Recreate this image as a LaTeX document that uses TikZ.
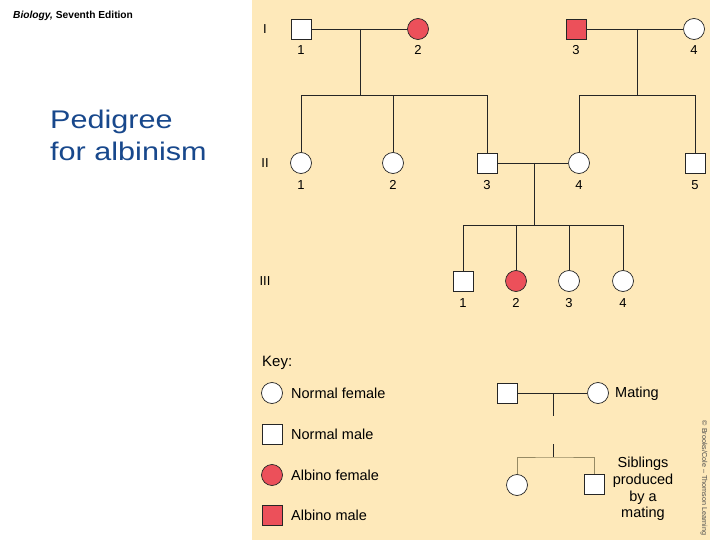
\documentclass[tikz,border=0pt]{standalone}
\usepackage{fontspec}
\usepackage{graphicx}
\setmainfont{Liberation Sans}
\definecolor{beige}{RGB}{254,233,186}
\definecolor{albred}{RGB}{236,80,90}
\definecolor{titleblue}{RGB}{24,72,140}
\definecolor{sibtan}{RGB}{150,138,100}
\tikzset{
  sym/.style={draw=black!85, line width=0.7pt, fill=white, inner sep=0pt},
  fem/.style={sym, circle, minimum size=21pt},
  mal/.style={sym, rectangle, minimum size=20pt},
  albf/.style={fem, fill=albred},
  albm/.style={mal, fill=albred},
  num/.style={font=\fontsize{13}{15}\selectfont, inner sep=0pt, text height=9.3pt, text depth=0pt},
  gen/.style={font=\fontsize{13}{15}\selectfont, inner sep=0pt, text height=9.3pt, text depth=0pt},
  keytext/.style={font=\fontsize{14.5}{17}\selectfont, inner sep=0pt, anchor=west},
  pline/.style={line width=0.7pt, draw=black!85},
  tanline/.style={line width=0.9pt, draw=sibtan}
}
\begin{document}
\begin{tikzpicture}[x=1pt,y=-1pt]
\useasboundingbox (0,0) rectangle (720,540);
\fill[white] (0,0) rectangle (720,540);
\fill[beige] (252,0) rectangle (710,540);

% header and title
\node[anchor=west, inner sep=0pt, font=\fontsize{10.2}{12}\selectfont] (hdr) at (13,16) {\textbf{\textit{Biology,}} \textbf{Seventh Edition}};
\node[anchor=base west, inner sep=0pt, text=titleblue, font=\fontsize{25.5}{30}\selectfont] (t1) at (50,129) {\scalebox{1.2}[1]{Pedigree}};
\node[anchor=base west, inner sep=0pt, text=titleblue, font=\fontsize{25.5}{30}\selectfont] (t2) at (50,161) {\scalebox{1.2}[1]{for albinism}};

% generation labels
\node[gen] (gI) at (265,29) {I};
\node[gen] (gII) at (265,163) {II};
\node[gen] (gIII) at (265,281) {III};

% generation I
\node[mal] (i1) at (301,29) {};
\node[albf] (i2) at (418,29) {};
\node[albm] (i3) at (576,29) {};
\node[fem] (i4) at (694,29) {};
\path (i1) ++(0,21) node[num] (li1) {1};
\path (i2) ++(0,21) node[num] (li2) {2};
\path (i3) ++(0,21) node[num] (li3) {3};
\path (i4) ++(0,21) node[num] (li4) {4};

% generation II
\node[fem] (ii1) at (301,163) {};
\node[fem] (ii2) at (393,163) {};
\node[mal] (ii3) at (487,163) {};
\node[fem] (ii4) at (579,163) {};
\node[mal] (ii5) at (695,163) {};
\path (ii1) ++(0,22) node[num] (lii1) {1};
\path (ii2) ++(0,22) node[num] (lii2) {2};
\path (ii3) ++(0,22) node[num] (lii3) {3};
\path (ii4) ++(0,22) node[num] (lii4) {4};
\path (ii5) ++(0,22) node[num] (lii5) {5};

% generation III
\node[mal] (iii1) at (463,281) {};
\node[albf] (iii2) at (516,281) {};
\node[fem] (iii3) at (569,281) {};
\node[fem] (iii4) at (623,281) {};
\path (iii1) ++(0,22) node[num] (liii1) {1};
\path (iii2) ++(0,22) node[num] (liii2) {2};
\path (iii3) ++(0,22) node[num] (liii3) {3};
\path (iii4) ++(0,22) node[num] (liii4) {4};

% connection coordinates
\coordinate (m1) at (360,29);
\coordinate (s1) at (360,95);
\coordinate (m2) at (637,29);
\coordinate (s2) at (637,95);
\coordinate (m3) at (534,163);
\coordinate (s3) at (534,225);

% lines gen I -> II
\draw[pline] (i1) -- (i2);
\draw[pline] (m1) -- (s1);
\draw[pline] (ii1.north) |- (ii3 |- s1) -- (ii3.north);
\draw[pline] (ii2.north) -- (ii2 |- s1);
\draw[pline] (i3) -- (i4);
\draw[pline] (m2) -- (s2);
\draw[pline] (ii4.north) |- (ii5 |- s2) -- (ii5.north);

% lines gen II -> III
\draw[pline] (ii3) -- (ii4);
\draw[pline] (m3) -- (s3);
\draw[pline] (iii1.north) |- (iii4 |- s3) -- (iii4.north);
\draw[pline] (iii2.north) -- (iii2 |- s3);
\draw[pline] (iii3.north) -- (iii3 |- s3);

% key
\node[keytext, font=\fontsize{15}{17}\selectfont] (key) at (262,363) {Key:};
\node[fem] (k1) at (272,393) {};
\node[mal] (k2) at (272,434) {};
\node[albf] (k3) at (272,475) {};
\node[albm] (k4) at (272,515) {};
\node[keytext] (k1t) at (291,393) {Normal female};
\node[keytext] (k2t) at (291,434) {Normal male};
\node[keytext] (k3t) at (291,475) {Albino female};
\node[keytext] (k4t) at (291,515) {Albino male};

% key mating
\node[mal] (km) at (507,393) {};
\node[fem] (kf) at (598,393) {};
\node[keytext] (kmt) at (615,394) {Mating};
\coordinate (km1) at (553,393);
\coordinate (km2) at (553,416);
\coordinate (ks1) at (553,444);
\coordinate (ks2) at (553,457);
\draw[pline] (km) -- (kf);
\draw[pline] (km1) -- (km2);
\node[fem] (kc) at (517,485) {};
\node[mal] (ks) at (594,484) {};
\draw[pline] (ks1) -- (ks2);
\draw[tanline] (kc.north) |- (ks2) -| (ks.north);
\node[font=\fontsize{14.5}{16.8}\selectfont, align=center, inner sep=0pt] (sib) at (643,489) {Siblings\\produced\\by a\\mating};

% copyright
\node[rotate=-90, font=\fontsize{7.2}{8}\selectfont, text=black!70, inner sep=0pt] (copy) at (704,478) {© Brooks/Cole – Thomson Learning};
\end{tikzpicture}
\end{document}
